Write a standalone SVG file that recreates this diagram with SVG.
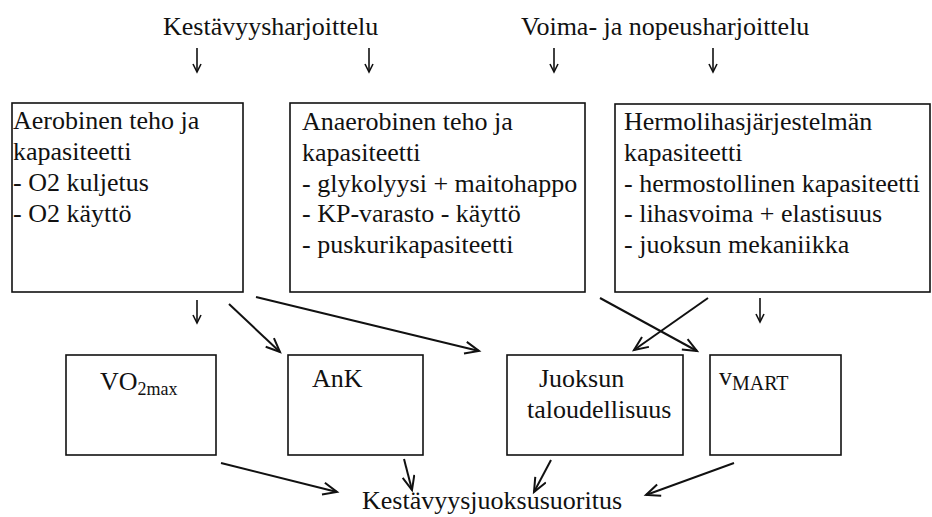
<svg xmlns="http://www.w3.org/2000/svg" width="932" height="517" viewBox="0 0 932 517">
<style>
text{font-family:"Liberation Serif","Times New Roman",serif;font-size:26px;fill:#111}
.box{fill:none;stroke:#111;stroke-width:1.6}
.c{fill:none;stroke:#111;stroke-width:2}
.s{fill:none;stroke:#111;stroke-width:1.6}
.sub{font-size:18px}
.sc{font-size:20px}
</style>
<defs>
<marker id="big" markerUnits="userSpaceOnUse" markerWidth="18" markerHeight="16" refX="15" refY="7" orient="auto">
<path d="M1,1 L15,7 L1,13" fill="none" stroke="#111" stroke-width="2"/>
</marker>
<marker id="sm" markerUnits="userSpaceOnUse" markerWidth="12" markerHeight="12" refX="9" refY="5" orient="auto">
<path d="M1,1 L9,5 L1,9" fill="none" stroke="#111" stroke-width="1.6"/>
</marker>
</defs>
<g id="title-left"><text x="163" y="35">Kestävyysharjoittelu</text></g>
<g id="title-right"><text x="521" y="35">Voima- ja nopeusharjoittelu</text></g>
<g id="aerobic">
<rect class="box" x="12" y="103" width="231" height="189"/>
<text x="13" y="129">Aerobinen teho ja</text>
<text x="13" y="160">kapasiteetti</text>
<text x="13" y="191">- O2 kuljetus</text>
<text x="13" y="222">- O2 käyttö</text>
</g>
<g id="anaerobic">
<rect class="box" x="290" y="103" width="295" height="189"/>
<text x="302" y="130">Anaerobinen teho ja</text>
<text x="302" y="161">kapasiteetti</text>
<text x="302" y="192">- glykolyysi + maitohappo</text>
<text x="302" y="222">- KP-varasto - käyttö</text>
<text x="302" y="253">- puskurikapasiteetti</text>
</g>
<g id="neuromuscular">
<rect class="box" x="615" y="104" width="315" height="188"/>
<text x="624" y="130">Hermolihasjärjestelmän</text>
<text x="624" y="161">kapasiteetti</text>
<text x="624" y="192">- hermostollinen kapasiteetti</text>
<text x="624" y="222">- lihasvoima + elastisuus</text>
<text x="624" y="253">- juoksun mekaniikka</text>
</g>
<g id="vo2max">
<rect class="box" x="66" y="355" width="150" height="100"/>
<text x="100" y="390">VO<tspan class="sub" dy="5">2max</tspan></text>
</g>
<g id="ank">
<rect class="box" x="288" y="355" width="135" height="100"/>
<text x="312" y="387">AnK</text>
</g>
<g id="economy">
<rect class="box" x="507" y="355" width="176" height="100"/>
<text x="539" y="387">Juoksun</text>
<text x="527" y="418">taloudellisuus</text>
</g>
<g id="vmart">
<rect class="box" x="710" y="355" width="131" height="100"/>
<text x="719" y="385">v<tspan class="sc" dy="5">MART</tspan></text>
</g>
<g id="performance"><text x="362" y="509">Kestävyysjuoksusuoritus</text></g>
<g id="connectors">
<line class="s" x1="197" y1="48" x2="197" y2="72" marker-end="url(#sm)"/>
<line class="s" x1="369" y1="48" x2="369" y2="72" marker-end="url(#sm)"/>
<line class="s" x1="554" y1="48" x2="554" y2="72" marker-end="url(#sm)"/>
<line class="s" x1="713" y1="48" x2="713" y2="72" marker-end="url(#sm)"/>
<line class="s" x1="197" y1="300" x2="197" y2="323" marker-end="url(#sm)"/>
<line class="s" x1="760" y1="298" x2="760" y2="322" marker-end="url(#sm)"/>
<line class="c" x1="229" y1="304" x2="280" y2="352" marker-end="url(#big)"/>
<line class="c" x1="256" y1="297" x2="479" y2="351" marker-end="url(#big)"/>
<line class="c" x1="708" y1="298" x2="634" y2="350" marker-end="url(#big)"/>
<line class="c" x1="600" y1="298" x2="697" y2="351" marker-end="url(#big)"/>
<line class="c" x1="221" y1="463" x2="337" y2="492" marker-end="url(#big)"/>
<line class="c" x1="404" y1="459" x2="412" y2="490" marker-end="url(#big)"/>
<line class="c" x1="551" y1="460" x2="534" y2="492" marker-end="url(#big)"/>
<line class="c" x1="734" y1="463" x2="646" y2="495" marker-end="url(#big)"/>
</g>
</svg>
